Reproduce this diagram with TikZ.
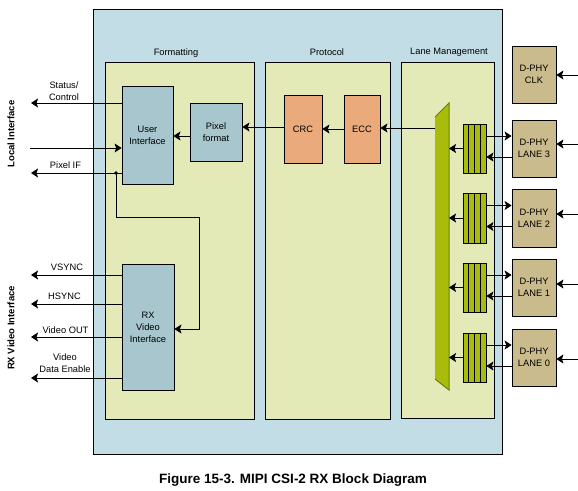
\documentclass[tikz,border=0pt]{standalone}
\usepackage{fontspec}
\setmainfont{Liberation Sans}
\usetikzlibrary{arrows.meta,calc}
\definecolor{outerblue}{HTML}{C2DDE5}
\definecolor{panel}{HTML}{E3EAB7}
\definecolor{uiblue}{HTML}{A7C6CE}
\definecolor{orangebox}{HTML}{EAAA7B}
\definecolor{tan}{HTML}{C9BB8B}
\definecolor{muxgreen}{HTML}{A9BC0B}
\definecolor{muxdark}{HTML}{6E7A10}
\begin{document}
\begin{tikzpicture}[x=1pt,y=-1pt,
  font=\fontsize{9.3}{12}\selectfont,
  box/.style={draw, line width=0.8pt, align=center, inner sep=0pt},
  arr/.style={-{Stealth[length=7pt,width=9pt,inset=1.5pt]}, line width=0.8pt},
  lbl/.style={align=center, inner sep=0pt},
  vlbl/.style={rotate=90, font=\fontsize{9.5}{12}\selectfont\bfseries, inner sep=0pt},
  dphy/.style={box, fill=tan, minimum width=44pt, minimum height=57pt},
  fifo/.style={box, fill=muxgreen, minimum width=23pt, minimum height=49pt,
    path picture={\foreach \i in {1,2,3}{\draw[line width=0.8pt]
      ($(path picture bounding box.south west)!\i/4!(path picture bounding box.south east)$) --
      ($(path picture bounding box.north west)!\i/4!(path picture bounding box.north east)$);}}},
]
\useasboundingbox (0,0) rectangle (578,490);
% outer block and panels
\draw[fill=outerblue, line width=0.8pt] (93,9.5) rectangle (502,454);
\draw[fill=panel, line width=0.8pt] (105,62) rectangle (254,419);
\draw[fill=panel, line width=0.8pt] (265,62) rectangle (390,419);
\draw[fill=panel, line width=0.8pt] (401,62) rectangle (494,418);
\node[anchor=base, inner sep=0pt] (tfmt) at (176,55) {Formatting};
\node[anchor=base, inner sep=0pt] (tprot) at (327,55) {Protocol};
\node[anchor=base, inner sep=0pt] (tlane) at (449,54) {Lane Management};

% boxes
\node[box, fill=uiblue, minimum width=51pt, minimum height=98pt] (ui) at (147.5,135) {User\\Interface};
\node[box, fill=uiblue, minimum width=52pt, minimum height=58pt] (pf) at (216,132) {Pixel\\format};
\node[box, fill=orangebox, minimum width=38pt, minimum height=68pt] (crc) at (303,129) {CRC};
\node[box, fill=orangebox, minimum width=36pt, minimum height=68pt] (ecc) at (362,129) {ECC};
\node[box, fill=uiblue, minimum width=52pt, minimum height=126pt] (rxv) at (148,327) {RX\\Video\\Interface};

% mux
\fill[muxgreen] (435,117) -- (449,103) -- (449,390) -- (435,379) -- cycle;
\draw[muxdark, line width=1pt] (435,117) -- (449,103) -- (449,390) -- (435,379);
\coordinate (muxR) at (449,200);
\coordinate (muxL) at (435,128);

% fifos and D-PHY
\node[fifo] (f3) at (474.5,148.5) {};
\node[fifo, minimum height=50pt] (f2) at (474.5,218) {};
\node[fifo] (f1) at (474.5,287.5) {};
\node[fifo] (f0) at (474.5,357.5) {};
\node[dphy] (dclk) at (534,74.5) {D-PHY\\CLK};
\node[dphy] (d3) at (534,148.5) {D-PHY\\LANE 3};
\node[dphy, minimum height=58pt] (d2) at (534,218) {D-PHY\\LANE 2};
\node[dphy] (d1) at (534,287.5) {D-PHY\\LANE 1};
\node[dphy] (d0) at (534,357.5) {D-PHY\\LANE 0};

% right-edge inputs
\coordinate (inclk) at (578,75);
\coordinate (in3) at (578,144);
\coordinate (in2) at (578,214);
\coordinate (in1) at (578,284);
\coordinate (in0) at (578,359);
\draw[arr] (inclk) -- (dclk.east |- inclk);
\draw[arr] (in3) -- (d3.east |- in3);
\draw[arr] (in2) -- (d2.east |- in2);
\draw[arr] (in1) -- (d1.east |- in1);
\draw[arr] (in0) -- (d0.east |- in0);

% fifo <-> dphy
\foreach \f/\d in {f3/d3,f2/d2,f1/d1,f0/d0}{
  \draw[arr] ($(\f.east)+(0,-12.5)$) -- ($(\d.west)+(0,-12.5)$);
  \draw[arr] ($(\d.west)+(0,8.5)$) -- ($(\f.east)+(0,8.5)$);
  \draw[arr] (\f.west) -- (\f.west -| muxR);
}

% protocol chain
\draw[arr] (muxL) -- (ecc.east |- muxL);
\draw[arr] (ecc.west) -- (crc.east);
\draw[arr] (crc.west |- 0,127) -- (pf.east |- 0,127);
\draw[arr] (pf.west |- 0,136) -- (ui.east |- 0,136);

% local interface
\coordinate (sc) at (31,103);
\coordinate (inl) at (30,148);
\coordinate (pix) at (31,173);
\coordinate (dot) at (116,173);
\draw[arr] (ui.west |- sc) -- (sc);
\draw[arr] (inl) -- (ui.west |- inl);
\draw[arr] (ui.west |- pix) -- (pix);
\fill (dot) circle (1.8pt);
\coordinate (c1) at (116,217);
\coordinate (c2) at (199,217);
\coordinate (c3) at (199,329);
\draw[arr] (dot) -- (c1) -- (c2) -- (c3) -- (rxv.east |- c3);
\node[lbl] (tsc) at (64,91.5) {Status/\\Control};
\node[lbl] (tpix) at (65.5,165) {Pixel IF};

% RX video interface
\coordinate (vs) at (31,275);
\coordinate (hs) at (31,304);
\coordinate (vo) at (31,337);
\coordinate (de) at (31,378);
\draw[arr] (rxv.west |- vs) -- (vs);
\draw[arr] (rxv.west |- hs) -- (hs);
\draw[arr] (rxv.west |- vo) -- (vo);
\draw[arr] (rxv.west |- de) -- (de);
\node[lbl] (tvs) at (67,267) {VSYNC};
\node[lbl] (ths) at (64.5,296.5) {HSYNC};
\node[lbl] (tvo) at (65.5,330.5) {Video OUT};
\node[lbl] (tde) at (65,363) {Video\\Data Enable};

% side labels
\node[vlbl] (loc) at (11,134) {Local Interface};
\node[vlbl] (rxl) at (11,328) {RX Video Interface};

% caption
\node[inner sep=0pt, font=\fontsize{13.5}{16}\selectfont\bfseries] (cap) at (293,480) {Figure 15-3. MIPI CSI-2 RX Block Diagram};
\end{tikzpicture}
\end{document}
